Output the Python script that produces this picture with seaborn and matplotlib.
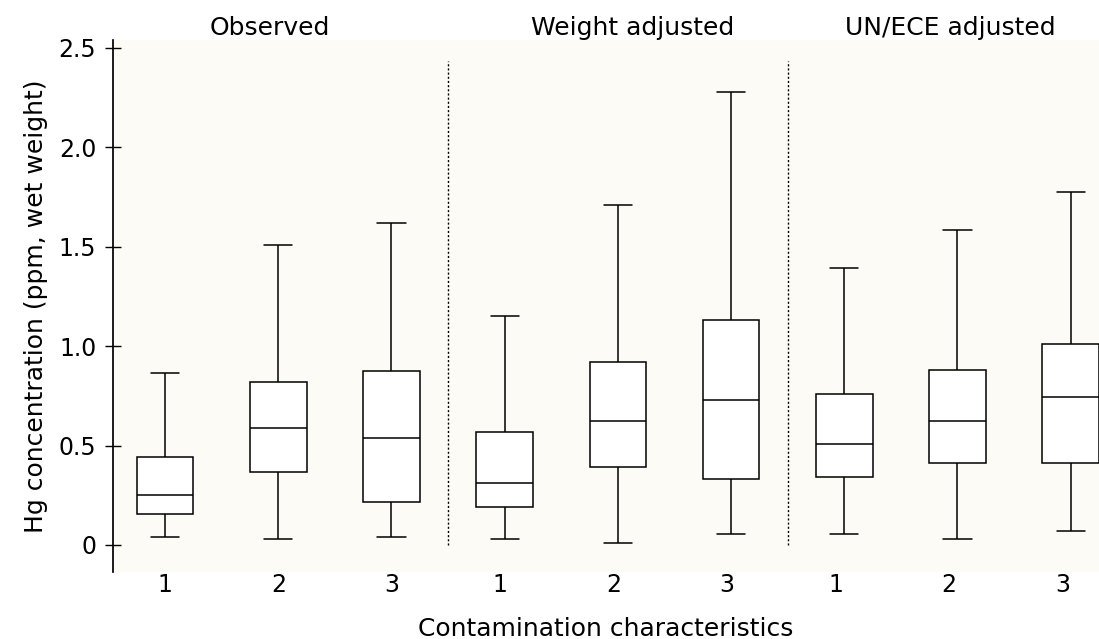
import matplotlib
matplotlib.use("Agg")
import matplotlib.pyplot as plt
import seaborn as sns
import pandas as pd

groups = ["1", "2", "3", "1 ", "2 ", "3 ", "1  ", "2  ", "3  "]
lows =    [0.04, 0.03, 0.04, 0.03, 0.01, 0.055, 0.055, 0.03, 0.07]
q1s =     [0.155, 0.365, 0.215, 0.19, 0.39, 0.33, 0.34, 0.41, 0.41]
medians = [0.25, 0.59, 0.54, 0.31, 0.625, 0.73, 0.51, 0.625, 0.745]
q3s =     [0.44, 0.82, 0.875, 0.57, 0.92, 1.13, 0.76, 0.88, 1.01]
highs =   [0.865, 1.51, 1.62, 1.15, 1.71, 2.28, 1.395, 1.585, 1.775]
panel_titles = ["Observed", "Weight adjusted", "UN/ECE adjusted"]

rows = []
for g, a, b, c, d, e in zip(groups, lows, q1s, medians, q3s, highs):
    for v in (a, b, c, d, e):
        rows.append({"g": g, "v": v})
df = pd.DataFrame(rows)

sns.set_theme(style="white")
plt.rcParams['font.family'] = ['DejaVu Sans']
plt.rcParams['text.color'] = 'black'
plt.rcParams['axes.labelcolor'] = 'black'
fig = plt.figure(figsize=(10.99, 6.39), dpi=100)
ax = fig.add_axes([113/1099, 1-572/639, (1099-113)/1099, (572-40)/639])
ax.set_facecolor("#fcfbf5")
lp = dict(color="black", linewidth=1.1)
sns.boxplot(data=df, x="g", y="v", order=groups, whis=(0, 100), width=0.5,
            color="white", linecolor="black", linewidth=1.1, ax=ax,
            boxprops=dict(facecolor="white", edgecolor="black"),
            whiskerprops=lp, capprops=lp, medianprops=lp, showfliers=False)
ax.set_xlim(-0.46, 8.25)
ax.set_ylim(-0.136, 2.54)
for x in (2.5, 5.5):
    ax.axvline(x, ymin=0.05, ymax=0.96, color="black", linestyle=(0, (1.5, 1.5)), linewidth=1)
for s in ("top", "right", "bottom"):
    ax.spines[s].set_visible(False)
ax.spines["left"].set_color("black")
ax.set_yticks([0, 0.5, 1.0, 1.5, 2.0, 2.5])
ax.set_yticklabels(["0", "0.5", "1.0", "1.5", "2.0", "2.5"])
ax.tick_params(axis="y", left=True, direction="inout", length=12, width=1,
               labelsize=17, colors="black", pad=6)
ax.tick_params(axis="x", length=0, labelsize=17, colors="black", pad=1)
ax.set_xlabel("Contamination characteristics", fontsize=18, labelpad=14)
ax.set_ylabel("Hg concentration (ppm, wet weight)", fontsize=18, labelpad=8)
for t, x in zip(panel_titles, [270, 633, 950]):
    fig.text(x/1099, 1-28/639, t, ha="center", va="center", fontsize=18)
fig.savefig("out.png", dpi=100, facecolor="white")
